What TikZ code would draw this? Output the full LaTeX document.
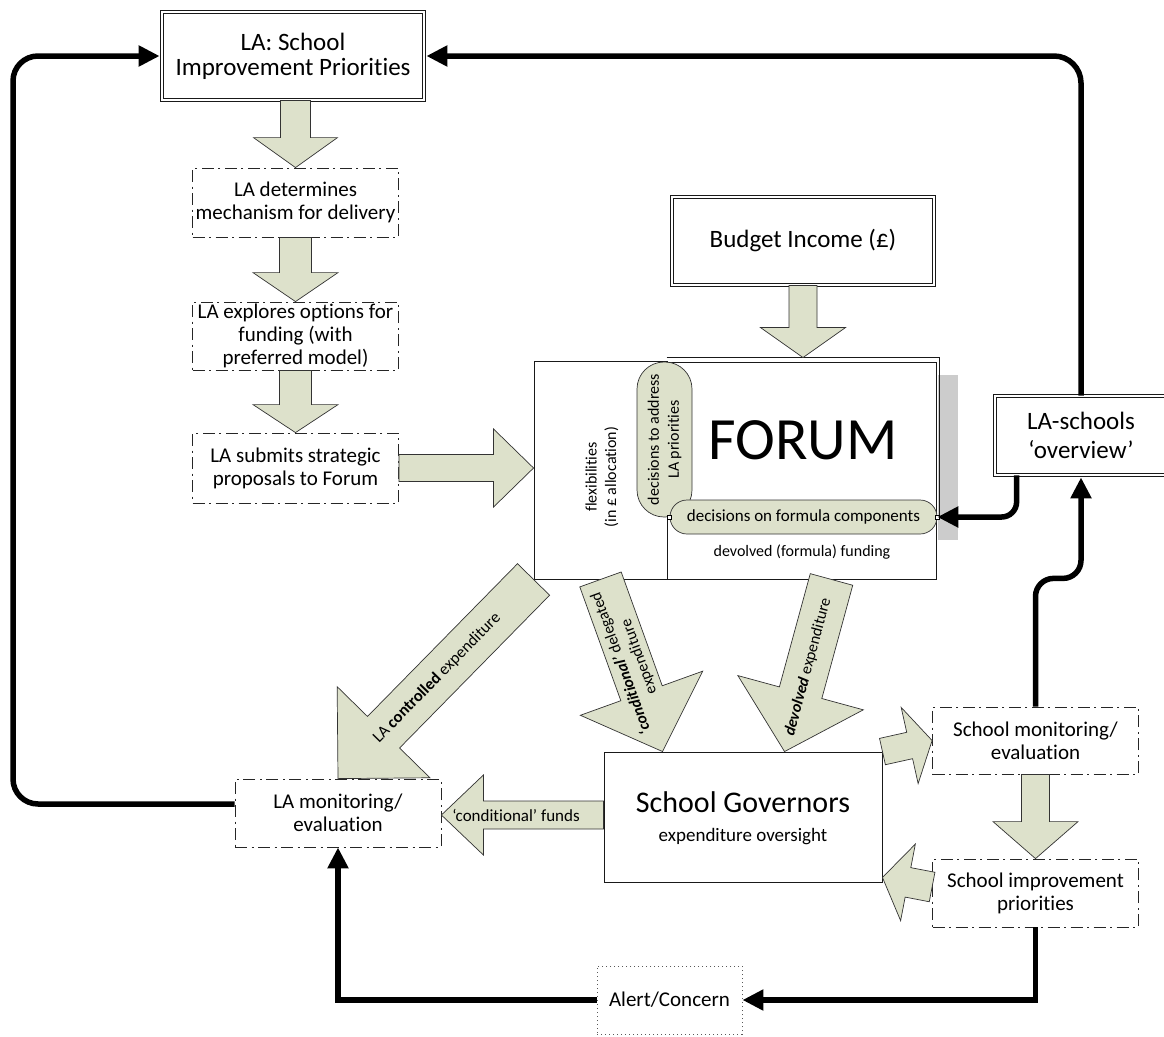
\documentclass[tikz,border=0pt]{standalone}
\usepackage{fontspec}
\setmainfont{Carlito}[Ligatures={TeX,NoCommon}]
\usetikzlibrary{calc,arrows.meta}
\definecolor{arrowfill}{RGB}{221,225,203}
\definecolor{pillfill}{RGB}{221,225,203}
\newcommand{\blockarr}[5]{%
  \coordinate (bahead) at ($#2!#5!#1$);
  \filldraw[barrow] ($#1!#3!90:#2$) -- ($(bahead)!#3!90:#2$) -- ($(bahead)!#4!90:#2$) -- #2 -- ($(bahead)!#4!-90:#2$) -- ($(bahead)!#3!-90:#2$) -- ($#1!#3!-90:#2$) -- cycle;}
\begin{document}
\begin{tikzpicture}[x=1pt,y=-1pt,
  dd/.style={draw=black!90, line width=0.8pt, double, double distance=2.2pt, align=center, inner sep=0pt},
  dashbox/.style={draw=black!85, line width=0.8pt, dash pattern=on 12pt off 4.5pt on 2pt off 4.5pt, align=center, inner sep=0pt, minimum width=206pt},
  solidbox/.style={draw=black!90, line width=0.9pt, inner sep=0pt},
  barrow/.style={fill=arrowfill, draw=black!80, line width=0.7pt, line join=miter},
  conn/.style={line width=5.5pt, -{Triangle[length=21pt,width=20pt]}},
  pill/.style={fill=pillfill, draw=black!80, line width=0.7pt, inner sep=0pt, align=center},
  f21/.style={font=\fontsize{21}{23}\selectfont},
  f25/.style={font=\fontsize{25}{25}\selectfont},
  f16/.style={font=\fontsize{16}{19.5}\selectfont},
]
\fill[white] (0,0) rectangle (1164,1036);
\useasboundingbox (0,0) rectangle (1164,1036);

% left column
\node[dd,f25,minimum width=262pt,minimum height=88pt] (top) at (293,56) {LA: School\\Improvement Priorities};
\node[dashbox,f21,minimum height=69pt] (det) at (295.5,202.5) {LA determines\\mechanism for delivery};
\node[dashbox,f21,minimum height=68pt] (expl) at (295.5,336) {LA explores options for\\funding (with\\preferred model)};
\node[dashbox,f21,minimum height=70pt] (sub) at (295.5,468) {LA submits strategic\\proposals to Forum};

% budget
\node[dd,f25,minimum width=262pt,minimum height=88pt] (budget) at (803,241) {Budget Income (£)};

% forum block
\fill[black!20] (938,375) rectangle (958,540);
\node[solidbox,minimum width=133pt,minimum height=218pt] (flex) at (600.5,470) {};
\node[solidbox,minimum width=269pt,minimum height=217pt] (forum) at (801.5,470.5) {};
\draw[line width=0.8pt,black!90] ($(forum.north west)+(0,-4)$) -- ($(forum.north east)+(3,-4)$) -- ($(forum.east)+(3,46)$);
\node[f16,rotate=90,align=center] (flexlbl) at (602,477) {flexibilities\\(in £ allocation)};
\node[font=\fontsize{60}{60}\selectfont] (forumlbl) at (803,440) {FORUM};
\node[f16] (devlbl) at (802,552) {devolved (formula) funding};
\node[pill,font=\fontsize{16}{20}\selectfont,rotate=90,minimum width=155pt,minimum height=55pt,rounded corners=27pt] (addr) at (664.5,439.5) {decisions to address\\LA priorities};
\node[pill,font=\fontsize{17}{20}\selectfont,minimum width=267pt,minimum height=34pt,rounded corners=17pt] (formula) at (803.5,517) {decisions on formula components};
\draw[fill=white,line width=0.4pt] ($(formula.west)+(-2,-2)$) rectangle ($(formula.west)+(2,2)$);
\draw[fill=white,line width=0.4pt] ($(formula.east)+(-2,-2)$) rectangle ($(formula.east)+(2,2)$);

% right side
\node[dd,f25,minimum width=172pt,minimum height=79pt,font=\fontsize{25}{29}\selectfont] (overview) at (1081,435.5) {LA-schools\\‘overview’};
\node[dashbox,f21,minimum height=67pt] (smon) at (1035.5,740.5) {School monitoring/\\evaluation};
\node[dashbox,f21,minimum height=68pt] (simp) at (1035.5,893) {School improvement\\priorities};

% governors
\node[solidbox,minimum width=278pt,minimum height=130pt] (gov) at (743,817) {};
\node[font=\fontsize{30}{30}\selectfont] (govtitle) at (743,802) {School Governors};
\node[font=\fontsize{19}{22}\selectfont] (govsub) at (743,837) {expenditure oversight};

% LA monitoring, alert
\node[dashbox,f21,minimum height=68pt] (lamon) at (338,813) {LA monitoring/\\evaluation};
\node[draw=black!65,line width=0.9pt,dash pattern=on 1pt off 3pt,f21,minimum width=145pt,minimum height=68pt,inner sep=0pt] (alert) at (669.5,1000) {Alert/Concern};

% block arrows
\blockarr{(det.north |- top.south)}{(det.north)}{15pt}{42pt}{30pt}
\blockarr{(det.south)}{(expl.north)}{16pt}{42.5pt}{29pt}
\blockarr{(expl.south)}{(sub.north)}{16pt}{42.5pt}{28pt}
\blockarr{(sub.east)}{(flex.west |- sub.east)}{13.5pt}{39pt}{40pt}
\coordinate (forumtop) at ($(budget.south |- forum.north)+(0,-4)$);
\blockarr{(budget.south)}{(forumtop)}{14pt}{42.5pt}{30pt}
\blockarr{(flex.south west)}{(lamon.north)}{22.5pt}{65pt}{65pt}
\coordinate (condtip) at ($(gov.north west)+(59,0)$);
\blockarr{(flex.south)}{(condtip)}{22pt}{65pt}{62pt}
\coordinate (devtail) at ($(forum.south)+(30,0)$);
\coordinate (devtip) at ($(gov.north west)+(181,0)$);
\blockarr{(devtail)}{(devtip)}{22pt}{65pt}{61pt}
\coordinate (cftail) at ($(gov.west)+(0,-2)$);
\blockarr{(cftail)}{(lamon.east |- cftail)}{14pt}{40pt}{42pt}
\blockarr{(gov.north east)}{(smon.west)}{13.5pt}{39pt}{23pt}
\coordinate (sitail) at ($(simp.west)+(0,-6)$);
\coordinate (sitip) at ($(gov.south east)+(0,-5)$);
\blockarr{(sitail)}{(sitip)}{15pt}{39pt}{26pt}
\blockarr{(smon.south)}{(simp.north)}{14pt}{42.5pt}{37pt}

% arrow labels
\node[font=\fontsize{16.5}{19}\selectfont,rotate=45.6] (ctrllbl) at (437,678) {LA \textbf{controlled} expenditure};
\node[font=\fontsize{16}{19}\selectfont,rotate=110,align=center] (condlbl) at (630,660) {\textbf{\textit{‘conditional’}} delegated\\expenditure};
\node[font=\fontsize{16}{19}\selectfont,rotate=75] (devolvlbl) at (808,667) {\textbf{\textit{devolved}} expenditure};
\node[font=\fontsize{17}{20}\selectfont] (cflbl) at (516,815) {‘conditional’ funds};

% connectors
\coordinate (topE) at ($(top.east)+(2,0)$);
\coordinate (topW) at ($(top.west)+(-2,0)$);
\coordinate (lefttrack) at (13,0);
\coordinate (lamonL) at ($(lamon.west)+(0,-9)$);
\coordinate (ovB) at ($(overview.south west)+(22,0)$);
\coordinate (ovS) at ($(overview.south)+(0,2)$);
\coordinate (jog) at ($(overview.south)+(0,103)$);
\draw[conn,rounded corners=27pt] (overview.north) |- (topE);
\draw[conn,rounded corners=25pt] (lamonL) -- (lefttrack |- lamonL) -- (lefttrack |- topW) -- (topW);
\draw[conn,rounded corners=15pt] (ovB) |- (formula.east);
\draw[conn,rounded corners=18pt] (smon.north) |- (jog) -- (ovS);
\draw[conn] (simp.south) |- (alert.east);
\draw[conn] (alert.west) -| (lamon.south);
\end{tikzpicture}
\end{document}
